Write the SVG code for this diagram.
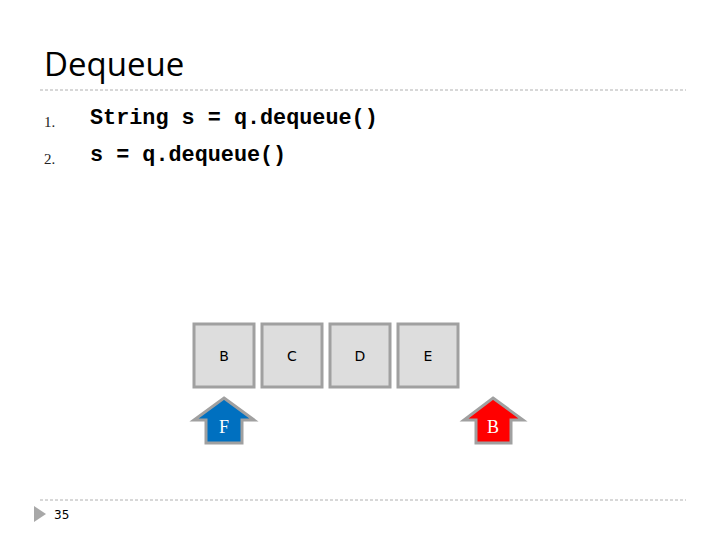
<svg xmlns="http://www.w3.org/2000/svg" width="720" height="540" viewBox="0 0 720 540">
<style>
.box{fill:#dddddd;stroke:#a0a0a0;stroke-width:3}
.bl{font-family:"DejaVu Sans",sans-serif;font-size:14px;text-anchor:middle;fill:#000}
.code{font-family:"Liberation Mono",monospace;font-weight:bold;font-size:21.8px;fill:#000}
.num{font-family:"Liberation Serif",serif;font-size:15px;fill:#222}
.rule{stroke:#b0b0b0;stroke-width:1;stroke-dasharray:3,2}
.arr{stroke:#a0a0a0;stroke-width:3}
.al{font-family:"Liberation Serif",serif;font-size:18px;fill:#fff;text-anchor:middle}
</style>
<rect width="720" height="540" fill="#fff"/>
<text x="44" y="76" font-family="Open Sans,sans-serif" font-size="33" fill="#000">Dequeue</text>
<line class="rule" x1="40" y1="90" x2="686" y2="90"/>
<text class="num" x="44" y="127">1.</text>
<text class="num" x="44" y="164">2.</text>
<text class="code" x="90" y="124">String s = q.dequeue()</text>
<text class="code" x="90" y="161">s = q.dequeue()</text>
<g id="nodeB"><rect class="box" x="194" y="324" width="60" height="63"/><text class="bl" x="224" y="361">B</text></g>
<g id="nodeC"><rect class="box" x="262" y="324" width="60" height="63"/><text class="bl" x="292" y="361">C</text></g>
<g id="nodeD"><rect class="box" x="330" y="324" width="60" height="63"/><text class="bl" x="360" y="361">D</text></g>
<g id="nodeE"><rect class="box" x="398" y="324" width="60" height="63"/><text class="bl" x="428" y="361">E</text></g>
<g id="front"><polygon class="arr" fill="#0070c0" points="224,398 254,420 242,420 242,443 206,443 206,420 194,420"/><text class="al" x="224" y="433">F</text></g>
<g id="back"><polygon class="arr" fill="#ff0000" points="493,398 523,420 511,420 511,443 476,443 476,420 464,420"/><text class="al" x="493" y="433">B</text></g>
<g id="connectors"/>
<line class="rule" x1="40" y1="500" x2="686" y2="500"/>
<polygon points="34,506 46,514 34,522" fill="#a8a8a8"/>
<text x="54" y="519" font-family="DejaVu Sans,sans-serif" font-size="12" fill="#000">35</text>
</svg>
